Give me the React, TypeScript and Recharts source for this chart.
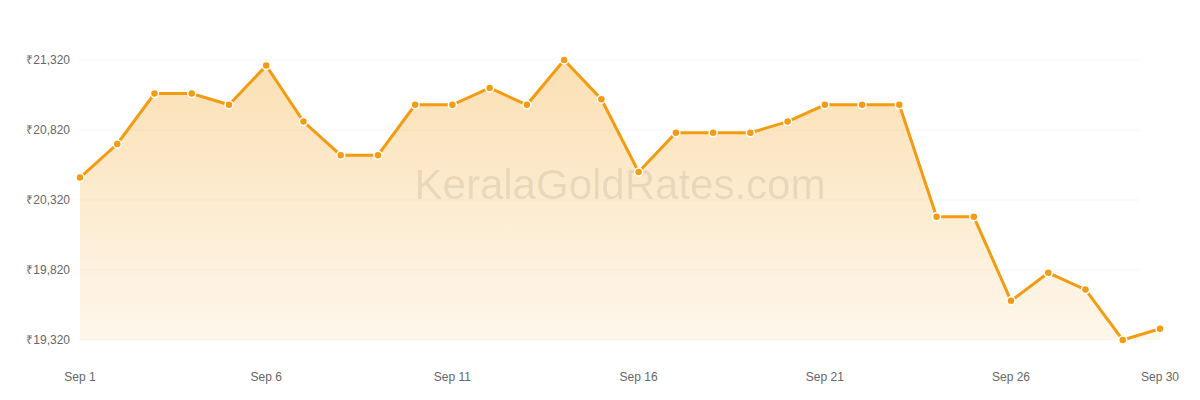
import React from 'react';
import { ComposedChart, Area, Line, XAxis, YAxis, CartesianGrid } from 'recharts';

const days = [1,2,3,4,5,6,7,8,9,10,11,12,13,14,15,16,17,18,19,20,21,22,23,24,25,26,27,28,29,30];
const prices = [20480,20720,21080,21080,21000,21280,20880,20640,20640,21000,21000,21120,21000,21320,21040,20520,20800,20800,20800,20880,21000,21000,21000,20200,20200,19600,19800,19680,19320,19400];
const xTicks = [1,6,11,16,21,26,30];
const yTicks = [19320,19820,20320,20820,21320];
const monthLabel = 'Sep';
const watermark = 'KeralaGoldRates.com';

const data = days.map((d, i) => ({ day: d, price: prices[i] }));

const ORANGE = '#F39C12';

const fmtPrice = (v: number) => '₹' + v.toLocaleString('en-US');

export default function App() {
  return (
    <div style={{ position: 'absolute', left: 0, top: 0, width: 1200, height: 400 }}>
      <ComposedChart width={1200} height={400} data={data} margin={{ top: 60, right: 60, bottom: 0, left: 0 }}>
        <defs>
          <linearGradient id="goldFill" x1="0" y1="0" x2="0" y2="1">
            <stop offset="0%" stopColor={ORANGE} stopOpacity={0.32} />
            <stop offset="100%" stopColor={ORANGE} stopOpacity={0.08} />
          </linearGradient>
        </defs>
        <CartesianGrid vertical={false} stroke="#000" strokeOpacity={0.035} />
        <XAxis
          dataKey="day"
          xAxisId="line"
          type="number"
          domain={[1, 30]}
          ticks={xTicks}
          tickFormatter={(d: number) => `${monthLabel} ${d}`}
          axisLine={false}
          tickLine={false}
          tickSize={0}
          tickMargin={2}
          height={60}
          padding={{ left: 0, right: -20 }}
          tick={{ fontSize: 12, fill: '#666', fontFamily: 'Liberation Sans, Arial, sans-serif' }}
          interval={0}
        />
        <XAxis
          dataKey="day"
          xAxisId="area"
          type="number"
          domain={[1, 30]}
          hide
          allowDataOverflow
          padding={{ left: 0, right: -20 }}
        />
        <YAxis
          domain={[19320, 21320]}
          ticks={yTicks}
          tickFormatter={fmtPrice}
          axisLine={false}
          tickLine={false}
          tickSize={0}
          tickMargin={10}
          width={80}
          tick={{ fontSize: 12, fill: '#666', fontFamily: 'Liberation Sans, Arial, sans-serif' }}
          interval={0}
        />
        <Area
          xAxisId="area"
          type="linear"
          dataKey="price"
          stroke="none"
          fill="url(#goldFill)"
          fillOpacity={1}
          baseValue={19320}
          isAnimationActive={false}
          dot={false}
          activeDot={false}
        />
        <text
          x={620}
          y={199}
          textAnchor="middle"
          fontSize={42}
          fontFamily="Liberation Sans, Arial, sans-serif"
          fill="#000"
          fillOpacity={0.1}
        >
          {watermark}
        </text>
        <Line
          xAxisId="line"
          type="linear"
          dataKey="price"
          stroke={ORANGE}
          strokeWidth={3}
          dot={{ r: 4, fill: ORANGE, stroke: '#fff', strokeWidth: 1.5 }}
          activeDot={false}
          isAnimationActive={false}
        />
      </ComposedChart>
    </div>
  );
}
